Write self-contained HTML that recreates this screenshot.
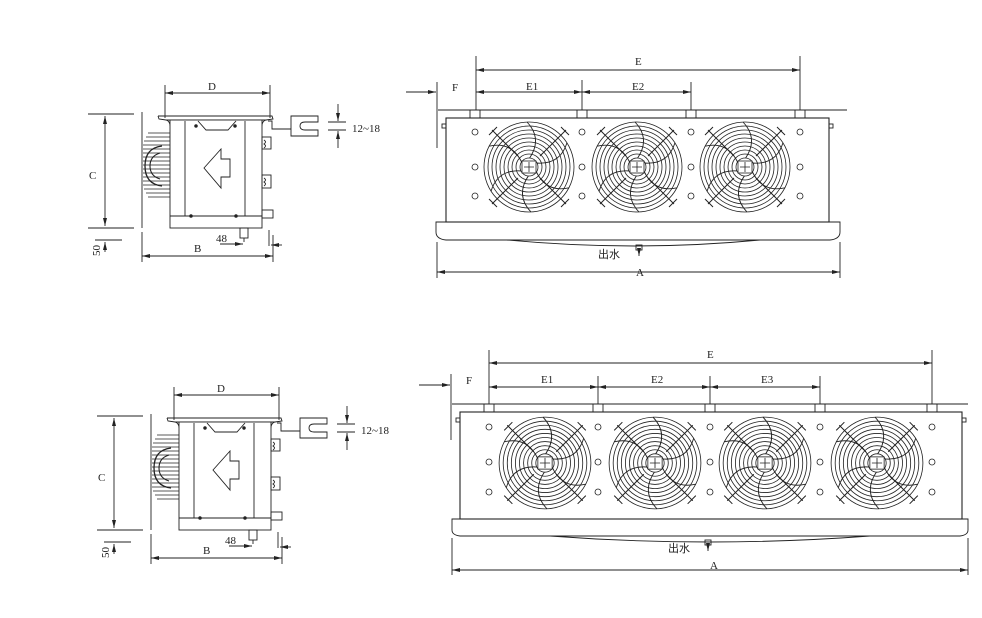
<!DOCTYPE html>
<html><head><meta charset="utf-8"><style>
html,body{margin:0;padding:0;background:#fff;}
svg{display:block;}
text{font-family:"Liberation Serif","Noto Serif CJK SC",serif;font-size:11px;fill:#222;}
.cn{font-family:"Liberation Sans","Noto Sans CJK SC",sans-serif;font-size:11px;}
</style></head><body>
<svg width="982" height="618" viewBox="0 0 982 618" xmlns="http://www.w3.org/2000/svg">
<defs>
<marker id="ar" markerWidth="8" markerHeight="6" refX="8" refY="3" orient="auto" markerUnits="userSpaceOnUse"><path d="M0,1 L8,3 L0,5 Z" fill="#222"/></marker>
<g id="fan" fill="none" stroke="#222" stroke-width="0.8">
 <g stroke-width="0.8">
 <circle r="45"/><circle r="41"/><circle r="37"/><circle r="33"/><circle r="29"/><circle r="25"/><circle r="21"/><circle r="17"/><circle r="13"/>
 </g>
 <g stroke-width="0.9">
 <path d="M0,-8 Q14,-28 -2,-45"/>
 <path d="M0,-8 Q14,-28 -2,-45" transform="rotate(60)"/>
 <path d="M0,-8 Q14,-28 -2,-45" transform="rotate(120)"/>
 <path d="M0,-8 Q14,-28 -2,-45" transform="rotate(180)"/>
 <path d="M0,-8 Q14,-28 -2,-45" transform="rotate(240)"/>
 <path d="M0,-8 Q14,-28 -2,-45" transform="rotate(300)"/>
 </g>
 <g stroke-width="1">
 <line x1="-11" y1="-11" x2="-37" y2="-37"/><line x1="11" y1="-11" x2="37" y2="-37"/>
 <line x1="-11" y1="11" x2="-37" y2="37"/><line x1="11" y1="11" x2="37" y2="37"/>
 <path d="M-40,-32 L-32,-40 M40,-32 L32,-40 M-40,32 L-32,40 M40,32 L32,40"/>
 </g>
 <circle r="9" fill="#fff"/>
 <rect x="-7" y="-6" width="14" height="12" fill="#fff"/>
 <path d="M-5,0 H5 M0,-5 V5"/>
</g>
<g id="side" fill="none" stroke="#222" stroke-width="0.9">
 <path d="M158,116 H272 L273,119 L266,120 Q262,121 262,126 M158,116 L159,119 L166,120 Q170,121 170,126"/>
 <line x1="166" y1="120" x2="266" y2="120"/>
 <rect x="170" y="120" width="92" height="108" fill="#fff"/>
 <line x1="185" y1="121" x2="185" y2="216"/>
 <line x1="245" y1="121" x2="245" y2="216"/>
 <line x1="170" y1="216" x2="262" y2="216"/>
 <path d="M198,121 L206,130 L228,130 L236,121"/>
 <circle cx="196" cy="126" r="1.3" fill="#222"/><circle cx="235" cy="126" r="1.3" fill="#222"/>
 <circle cx="191" cy="216" r="1.3" fill="#222"/><circle cx="236" cy="216" r="1.3" fill="#222"/>
 <path d="M204,168 L221,149 L221,159 L230,159 L230,177 L221,177 L221,188 Z"/>
 <rect x="262" y="137" width="9" height="12"/><path d="M264,140 q3,2 0,4 q3,2 0,4"/>
 <rect x="262" y="175" width="9" height="13"/><path d="M264,178 q3,2 0,4 q3,2 0,4"/>
 <rect x="262" y="210" width="11" height="8"/>
 <line x1="269" y1="230" x2="269" y2="246"/>
 <rect x="240" y="228" width="8" height="10"/><line x1="244" y1="238" x2="244" y2="242"/>
 <g stroke-width="0.8">
 <line x1="148" y1="133" x2="170" y2="133"/><line x1="146" y1="137" x2="170" y2="137"/><line x1="144" y1="141" x2="170" y2="141"/>
 <line x1="143" y1="145" x2="170" y2="145"/><line x1="143" y1="149" x2="170" y2="149"/><line x1="143" y1="153" x2="170" y2="153"/>
 <line x1="143" y1="157" x2="170" y2="157"/><line x1="143" y1="161" x2="170" y2="161"/><line x1="143" y1="165" x2="170" y2="165"/>
 <line x1="143" y1="169" x2="170" y2="169"/><line x1="143" y1="173" x2="170" y2="173"/><line x1="143" y1="177" x2="170" y2="177"/>
 <line x1="143" y1="181" x2="170" y2="181"/><line x1="143" y1="185" x2="170" y2="185"/><line x1="144" y1="189" x2="170" y2="189"/>
 <line x1="146" y1="193" x2="170" y2="193"/><line x1="148" y1="197" x2="170" y2="197"/>
 </g>
 <path d="M162,146 Q145,148 145,166 Q145,184 162,186" stroke-width="1.3"/>
 <path d="M160,153 Q150,156 150,166 Q150,176 160,179" stroke-width="1.1"/>
 <line x1="142" y1="112" x2="142" y2="228"/>
 <line x1="142" y1="232" x2="142" y2="262"/>
 <line x1="273" y1="235" x2="273" y2="262"/>
 <line x1="88" y1="114" x2="134" y2="114"/>
 <line x1="88" y1="228" x2="134" y2="228"/>
 <line x1="95" y1="240" x2="122" y2="240"/>
 <line x1="105" y1="170" x2="105" y2="226" marker-end="url(#ar)"/>
 <line x1="105" y1="170" x2="105" y2="116" marker-end="url(#ar)"/>
 <line x1="105" y1="252" x2="105" y2="242" marker-end="url(#ar)"/>
 <line x1="142" y1="256" x2="273" y2="256" marker-end="url(#ar)"/>
 <line x1="273" y1="256" x2="142" y2="256" marker-end="url(#ar)"/>
 <line x1="220" y1="244" x2="243" y2="244" marker-end="url(#ar)"/>
 <line x1="282" y1="245" x2="271" y2="245" marker-end="url(#ar)"/>
 <line x1="165" y1="85" x2="165" y2="118"/>
 <line x1="270" y1="85" x2="270" y2="118"/>
 <line x1="165" y1="93" x2="270" y2="93" marker-end="url(#ar)"/>
 <line x1="270" y1="93" x2="165" y2="93" marker-end="url(#ar)"/>
 <path d="M268,121 L272,121 L272,129 L291,129"/>
 <path d="M291,116 H318 V122 H305 Q300,122 300,126 Q300,130 305,130 H318 V136 H291 Z"/>
 <line x1="328" y1="122" x2="346" y2="122"/>
 <line x1="328" y1="130" x2="346" y2="130"/>
 <line x1="338" y1="104" x2="338" y2="121" marker-end="url(#ar)"/>
 <line x1="338" y1="148" x2="338" y2="131" marker-end="url(#ar)"/>
</g>
</defs>

<use href="#side"/>
<text x="208" y="90">D</text>
<text x="89" y="179">C</text>
<text x="194" y="252">B</text>
<text x="216" y="242">48</text>
<text x="352" y="132">12~18</text>
<text x="0" y="0" transform="translate(100,256) rotate(-90)">50</text>

<g transform="translate(9,302)">
<use href="#side"/>
<text x="208" y="90">D</text>
<text x="89" y="179">C</text>
<text x="194" y="252">B</text>
<text x="216" y="242">48</text>
<text x="352" y="132">12~18</text>
<text x="0" y="0" transform="translate(100,256) rotate(-90)">50</text>
</g>

<g fill="none" stroke="#222" stroke-width="0.9">
 <line x1="406" y1="92" x2="436" y2="92" marker-end="url(#ar)"/>
 <line x1="437" y1="82" x2="437" y2="148"/>
 <line x1="438" y1="110" x2="847" y2="110"/>
 <line x1="476" y1="56" x2="476" y2="110"/>
 <line x1="800" y1="56" x2="800" y2="110"/>
 <line x1="582" y1="80" x2="582" y2="110"/>
 <line x1="691" y1="82" x2="691" y2="110"/>
 <line x1="476" y1="70" x2="800" y2="70" marker-end="url(#ar)"/>
 <line x1="800" y1="70" x2="476" y2="70" marker-end="url(#ar)"/>
 <line x1="476" y1="92" x2="582" y2="92" marker-end="url(#ar)"/>
 <line x1="582" y1="92" x2="476" y2="92" marker-end="url(#ar)"/>
 <line x1="582" y1="92" x2="691" y2="92" marker-end="url(#ar)"/>
 <line x1="691" y1="92" x2="582" y2="92" marker-end="url(#ar)"/>
 <rect x="470" y="110" width="10" height="8"/><rect x="577" y="110" width="10" height="8"/>
 <rect x="686" y="110" width="10" height="8"/><rect x="795" y="110" width="10" height="8"/>
 <rect x="446" y="118" width="383" height="104" stroke-width="1.1"/>
 <rect x="442" y="124" width="4" height="4"/><rect x="829" y="124" width="4" height="4"/>
 <path d="M436,222 H840 V232 Q840,239 830,240 H446 Q436,239 436,232 Z"/>
 <path d="M507,240 Q635,252 760,240"/>
 <rect x="636" y="245" width="6" height="5"/><line x1="639" y1="250" x2="639" y2="256" marker-end="url(#ar)"/>
 <line x1="437" y1="242" x2="437" y2="278"/><line x1="840" y1="242" x2="840" y2="278"/>
 <line x1="437" y1="272" x2="840" y2="272" marker-end="url(#ar)"/>
 <line x1="840" y1="272" x2="437" y2="272" marker-end="url(#ar)"/>
 <g stroke-width="0.8">
 <circle cx="475" cy="132" r="3"/><circle cx="475" cy="167" r="3"/><circle cx="475" cy="196" r="3"/>
 <circle cx="582" cy="132" r="3"/><circle cx="582" cy="167" r="3"/><circle cx="582" cy="196" r="3"/>
 <circle cx="691" cy="132" r="3"/><circle cx="691" cy="167" r="3"/><circle cx="691" cy="196" r="3"/>
 <circle cx="800" cy="132" r="3"/><circle cx="800" cy="167" r="3"/><circle cx="800" cy="196" r="3"/>
 </g>
</g>
<use href="#fan" transform="translate(529,167)"/>
<use href="#fan" transform="translate(637,167)"/>
<use href="#fan" transform="translate(745,167)"/>
<text x="452" y="91">F</text>
<text x="635" y="65">E</text>
<text x="526" y="90">E1</text>
<text x="632" y="90">E2</text>
<text x="636" y="276">A</text>
<text x="598" y="258" class="cn">出水</text>

<g fill="none" stroke="#222" stroke-width="0.9">
 <line x1="419" y1="385" x2="450" y2="385" marker-end="url(#ar)"/>
 <line x1="451" y1="374" x2="451" y2="440"/>
 <line x1="452" y1="404" x2="968" y2="404"/>
 <line x1="489" y1="350" x2="489" y2="404"/>
 <line x1="932" y1="350" x2="932" y2="404"/>
 <line x1="598" y1="376" x2="598" y2="404"/>
 <line x1="710" y1="376" x2="710" y2="404"/>
 <line x1="820" y1="376" x2="820" y2="404"/>
 <line x1="489" y1="363" x2="932" y2="363" marker-end="url(#ar)"/>
 <line x1="932" y1="363" x2="489" y2="363" marker-end="url(#ar)"/>
 <line x1="489" y1="387" x2="598" y2="387" marker-end="url(#ar)"/>
 <line x1="598" y1="387" x2="489" y2="387" marker-end="url(#ar)"/>
 <line x1="598" y1="387" x2="710" y2="387" marker-end="url(#ar)"/>
 <line x1="710" y1="387" x2="598" y2="387" marker-end="url(#ar)"/>
 <line x1="710" y1="387" x2="820" y2="387" marker-end="url(#ar)"/>
 <line x1="820" y1="387" x2="710" y2="387" marker-end="url(#ar)"/>
 <rect x="484" y="404" width="10" height="8"/><rect x="593" y="404" width="10" height="8"/>
 <rect x="705" y="404" width="10" height="8"/><rect x="815" y="404" width="10" height="8"/>
 <rect x="927" y="404" width="10" height="8"/>
 <rect x="460" y="412" width="502" height="107" stroke-width="1.1"/>
 <rect x="456" y="418" width="4" height="4"/><rect x="962" y="418" width="4" height="4"/>
 <path d="M452,519 H968 V530 Q968,535 960,536 H460 Q452,535 452,530 Z"/>
 <path d="M550,536 Q710,548 870,536"/>
 <rect x="705" y="540" width="6" height="5"/><line x1="708" y1="545" x2="708" y2="551" marker-end="url(#ar)"/>
 <line x1="452" y1="538" x2="452" y2="575"/><line x1="968" y1="538" x2="968" y2="575"/>
 <line x1="452" y1="570" x2="968" y2="570" marker-end="url(#ar)"/>
 <line x1="968" y1="570" x2="452" y2="570" marker-end="url(#ar)"/>
 <g stroke-width="0.8">
 <circle cx="489" cy="427" r="3"/><circle cx="489" cy="462" r="3"/><circle cx="489" cy="492" r="3"/>
 <circle cx="598" cy="427" r="3"/><circle cx="598" cy="462" r="3"/><circle cx="598" cy="492" r="3"/>
 <circle cx="710" cy="427" r="3"/><circle cx="710" cy="462" r="3"/><circle cx="710" cy="492" r="3"/>
 <circle cx="820" cy="427" r="3"/><circle cx="820" cy="462" r="3"/><circle cx="820" cy="492" r="3"/>
 <circle cx="932" cy="427" r="3"/><circle cx="932" cy="462" r="3"/><circle cx="932" cy="492" r="3"/>
 </g>
</g>
<use href="#fan" transform="translate(545,463) scale(1.02)"/>
<use href="#fan" transform="translate(655,463) scale(1.02)"/>
<use href="#fan" transform="translate(765,463) scale(1.02)"/>
<use href="#fan" transform="translate(877,463) scale(1.02)"/>
<text x="466" y="384">F</text>
<text x="707" y="358">E</text>
<text x="541" y="383">E1</text>
<text x="651" y="383">E2</text>
<text x="761" y="383">E3</text>
<text x="710" y="569">A</text>
<text x="668" y="552" class="cn">出水</text>
</svg>
</body></html>
